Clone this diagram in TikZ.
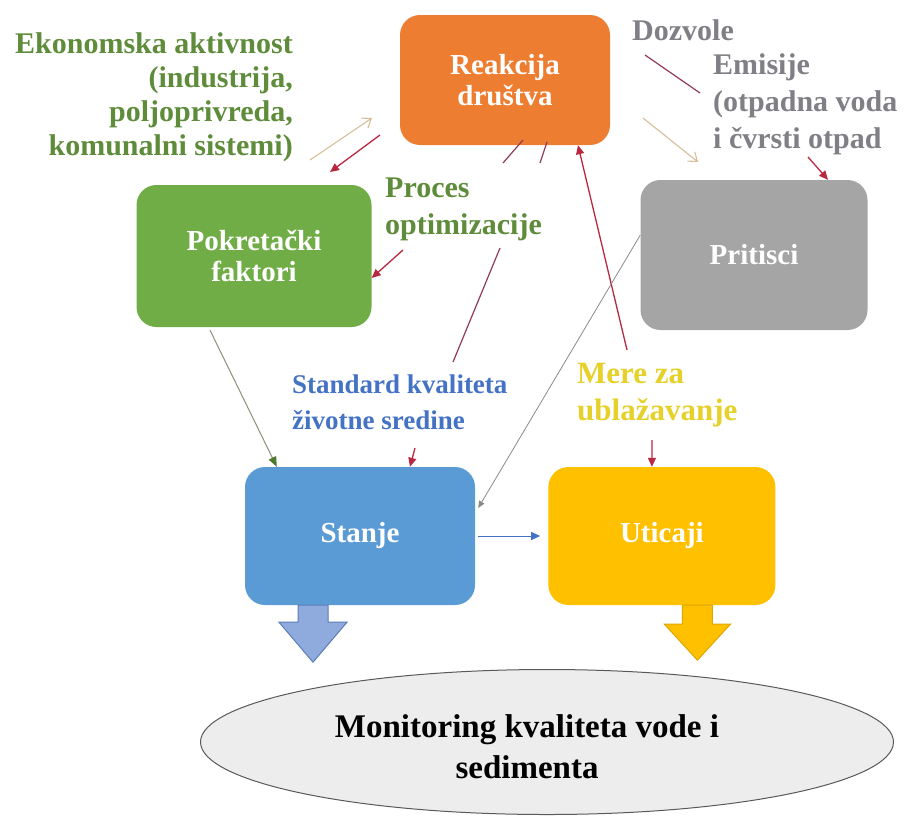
\documentclass[tikz,border=0pt]{standalone}
\usepackage{fontspec}
\setmainfont{Liberation Serif}
\usepackage{tikz}
\usetikzlibrary{positioning, shapes.geometric, arrows.meta, calc}

\definecolor{orangebox}{HTML}{ED7D31}
\definecolor{greenbox}{HTML}{70AD47}
\definecolor{graybox}{HTML}{A5A5A5}
\definecolor{bluebox}{HTML}{5B9BD5}
\definecolor{yellowbox}{HTML}{FFC000}
\definecolor{ellipsefill}{HTML}{EDEDED}
\definecolor{ellipseline}{HTML}{595959}
\definecolor{notegreen}{HTML}{5E8C3A}
\definecolor{noteblue}{HTML}{4472C4}
\definecolor{noteyellow}{HTML}{E6D12A}
\definecolor{notegray}{HTML}{7F7F85}
\definecolor{arrowred}{HTML}{B8283F}
\definecolor{lineviolet}{HTML}{8E3A5A}
\definecolor{tanline}{HTML}{D6BE9C}
\definecolor{grayline}{HTML}{8A8A8A}
\definecolor{oliveline}{HTML}{8C8F7A}
\definecolor{tipgreen}{HTML}{4E7A2E}
\definecolor{arrowblue}{HTML}{8FAADC}
\definecolor{arrowblueline}{HTML}{5B7DB8}
\definecolor{arrowyellowline}{HTML}{DDA600}

\begin{document}
\begin{tikzpicture}[
    x=1pt, y=1pt,
    block/.style={rounded corners=20pt, minimum width=227pt, minimum height=140pt,
      align=center, text=white, font=\fontsize{29}{31}\selectfont\bfseries},
    note/.style={inner sep=0pt, font=\fontsize{30}{34}\selectfont\bfseries},
    redarrow/.style={draw=arrowred, line width=1.3pt, -{Triangle[length=9pt, width=8pt]}},
    tanarrow/.style={draw=tanline, line width=1.1pt, -{Straight Barb[length=8pt, width=12pt]}},
    thinline/.style={draw=lineviolet, line width=1.2pt},
    blockarrow/.style={line width=1pt, line join=miter}
  ]
  \useasboundingbox (0,0) rectangle (909,-820);

  % Top row
  \node[block, fill=orangebox, minimum width=210pt, minimum height=130pt] (drustvo) at (505,-80) {Reakcija\\društva};

  % Middle row
  \node[block, fill=greenbox, minimum width=235pt, minimum height=142pt] (pokretacki) at (254,-256) {Pokretački\\faktori};
  \node[block, fill=graybox, minimum height=150pt] (pritisci) at (754,-255) {Pritisci};

  % Bottom row
  \node[block, fill=bluebox, minimum width=230pt, minimum height=138pt] (stanje) at (360,-536) {Stanje};
  \node[block, fill=yellowbox, minimum height=138pt, right=73pt of stanje] (uticaji) {Uticaji};

  % Monitoring
  \node[ellipse, draw=ellipseline, fill=ellipsefill, line width=1pt, minimum width=693pt, minimum height=145pt] (monitoring) at (547,-742) {};
  \node[align=center, font=\fontsize{33}{41}\selectfont\bfseries] (monitoringtekst) at ($(monitoring.center)+(-20,-5)$) {Monitoring kvaliteta vode i\\sedimenta};

  % Notes
  \node[note, text=notegreen, align=right, anchor=north east] (ekonomska) at (293,-32) {Ekonomska aktivnost\\(industrija,\\poljoprivreda,\\komunalni sistemi)};
  \node[note, text=notegreen, align=left, anchor=north west, font=\fontsize{30}{37}\selectfont\bfseries] (proces) at (385,-178) {Proces\\optimizacije};
  \node[note, text=noteblue, align=left, anchor=north west, font=\fontsize{27}{36}\selectfont\bfseries] (standard) at (292,-375) {Standard kvaliteta\\životne sredine};
  \node[note, text=noteyellow, align=left, anchor=north west, font=\fontsize{31}{37}\selectfont\bfseries] (mere) at (577,-363) {Mere za\\ublažavanje};
  \node[note, text=notegray, anchor=north west] (dozvole) at (632,-19) {Dozvole};
  \node[note, text=notegray, align=left, anchor=north west, font=\fontsize{30}{37}\selectfont\bfseries] (emisije) at (713,-53) {Emisije\\(otpadna voda\\i čvrsti otpad};

  % Free ends
  \coordinate (ekoout) at (310,-160);
  \coordinate (ekoin) at (372,-118);
  \coordinate (povratak) at (380,-135);
  \coordinate (povratakkraj) at (330,-172);
  \coordinate (procesout) at (403,-250);
  \coordinate (procesgore) at (500,-248);
  \coordinate (procesdole) at (453,-362);
  \coordinate (standardout) at (415,-448);
  \coordinate (mereout) at (627,-350);
  \coordinate (meredole) at (652,-440);
  \coordinate (kratka1) at (503,-163);
  \coordinate (kratka1kraj) at (523,-140);
  \coordinate (kratka2) at (540,-163);
  \coordinate (kratka2kraj) at (547,-142);
  \coordinate (pritisakout) at (643,-118);
  \coordinate (pritisakin) at (698,-162);
  \coordinate (dozvoleout) at (645,-55);
  \coordinate (dozvolekraj) at (700,-93);
  \coordinate (emisijeout) at (808,-157);

  % Connectors
  \draw[tanarrow] (ekoout) -- (ekoin);
  \draw[redarrow] (povratak) -- (povratakkraj);
  \draw[redarrow] (procesout) -- ($(pokretacki.east)+(0,-22)$);
  \draw[thinline] (procesgore) -- (procesdole);
  \draw[redarrow] (standardout) -- ($(stanje.north)+(50,0)$);
  \draw[redarrow] (mereout) -- ($(drustvo.south)+(73,0)$);
  \draw[redarrow] (meredole) -- ($(uticaji.north)+(-10,0)$);
  \draw[thinline] (kratka1) -- (kratka1kraj);
  \draw[thinline] (kratka2) -- (kratka2kraj);
  \draw[tanarrow] (pritisakout) -- (pritisakin);
  \draw[thinline] (dozvoleout) -- (dozvolekraj);
  \draw[redarrow] (emisijeout) -- ($(pritisci.north)+(74,0)$);
  \draw[draw=grayline, line width=0.8pt, -{Triangle[length=7pt, width=6pt]}] ($(pritisci.west)+(0,20)$) -- ($(stanje.east)+(3,28)$);
  \draw[draw=oliveline, line width=1pt, -{Triangle[length=10pt, width=8pt, color=tipgreen]}] ($(pokretacki.south)+(-44,-3)$) -- ($(stanje.north west)+(32,0)$);
  \draw[draw=noteblue, line width=1pt, -{Triangle[length=9pt, width=8pt]}, shorten <=3pt, shorten >=8pt] (stanje.east) -- (uticaji.west);

  % Block arrows
  \draw[blockarrow, fill=arrowblue, draw=arrowblueline] ([xshift=-47pt]stanje.south) ++(-15,0) -- ++(30,0) -- ++(0,-17) -- ++(19,0) -- ++(-34,-40) -- ++(-34,40) -- ++(19,0) -- cycle;
  \draw[blockarrow, fill=yellowbox, draw=arrowyellowline] ([xshift=35.5pt]uticaji.south) ++(-15,0) -- ++(30,0) -- ++(0,-19) -- ++(18,0) -- ++(-33,-36) -- ++(-33,36) -- ++(18,0) -- cycle;

\end{tikzpicture}
\end{document}
